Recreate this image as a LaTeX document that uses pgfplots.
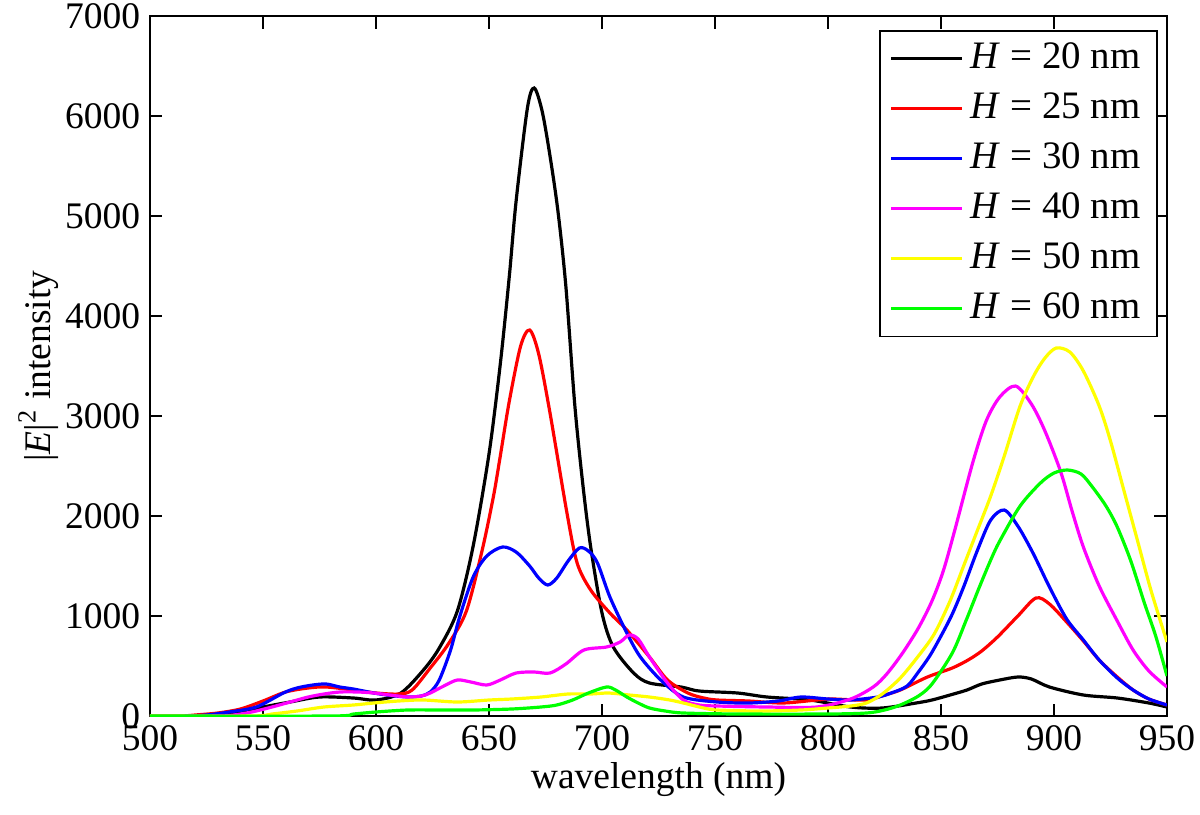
\documentclass[border=0pt]{standalone}
\usepackage{fontspec}
\setmainfont{Liberation Serif}
\usepackage{pgfplots}
\pgfplotsset{compat=1.18}
\definecolor{cblack}{rgb}{0,0,0}
\definecolor{cred}{rgb}{1,0,0}
\definecolor{cblue}{rgb}{0,0,1}
\definecolor{cmag}{rgb}{1,0,1}
\definecolor{cyel}{rgb}{1,1,0}
\definecolor{cgreen}{rgb}{0,1,0}
\begin{document}
\begin{tikzpicture}
\path[use as bounding box] (-54pt,-35.28pt) rectangle (378pt,257.76pt);
\begin{axis}[
  scale only axis, width=366.12pt, height=252pt,
  xmin=500, xmax=950, ymin=0, ymax=7000,
  xtick={500,550,...,950}, ytick={0,1000,...,7000},
  tick align=inside, major tick length=4.5pt,
  axis line style={line width=0.6pt},
  tick style={line width=0.6pt, black},
  font=\fontsize{13.5}{16}\selectfont,
  /pgf/number format/assume math mode=true,
  /pgf/number format/1000 sep={},
  scaled y ticks=false,
  xlabel={wavelength (nm)},
  ylabel={|\textit{E}|\textsuperscript{2} intensity},
  xlabel style={at={(axis description cs:0.5,-0.1040)}, anchor=base},
  ylabel style={at={(axis description cs:-0.0983,0.5)}, anchor=base},
  legend style={at={(0.991,0.98)}, anchor=north east, draw=black, line width=0.6pt, fill=white,
    font=\fontsize{14}{16}\selectfont, inner xsep=3.5pt, inner ysep=1pt, row sep=0pt,
    nodes={inner sep=2.5pt, text height=10pt, text depth=3pt}},
  legend cell align=left,
  legend image code/.code={\draw[#1] (0pt,0pt) -- (25.5pt,0pt);},
  every axis plot/.append style={line width=1.15pt, smooth, tension=0.5},
]
% H = 20 nm
\addplot[cblack] coordinates {
(500,0) (515,0) (525,10) (540,40) (550,90) (562,140) (575,190) (590,180) (600,160) (611,230)
(621,460) (628,680) (636,1050) (643,1700) (650,2620) (655,3520) (659,4400) (662,5150) (667,6080)
(670,6280) (673.5,6050) (677,5600) (680.5,5050) (684,4300) (688,3100) (691.6,2300) (695,1690)
(700,1030) (705,690) (714,430) (721,330) (735,290) (743,250) (760,230) (773,190) (792,160)
(810,90) (824,80) (839,130) (846,160) (854,210) (861.5,260) (868,320) (876,360) (884,390)
(890,370) (898,290) (913,210) (928,180) (942,130) (950,90)};
\addlegendentry{\textit{H} = 20 nm}
% H = 25 nm
\addplot[cred] coordinates {
(500,0) (515,0) (520,10) (530,30) (540,70) (550,150) (560,240) (570,280) (578,290) (590,260)
(600,230) (610,220) (616,260) (624,480) (632,720) (640,1050) (647,1660) (652,2200) (655,2600)
(659,3150) (664,3700) (668,3860) (672,3620) (677,3030) (684.5,2030) (689,1530) (695,1260)
(703.5,1030) (711,860) (721,590) (729,360) (738,230) (745,180) (751,160) (765,150) (780,130)
(795,160) (802,170) (817,160) (825,210) (832,260) (844,390) (855,480) (862,560) (868,650)
(875,790) (884,1000) (892,1180) (898,1120) (906,930) (913,750) (920,560) (928,390) (935,260)
(942,170) (950,110)};
\addlegendentry{\textit{H} = 25 nm}
% H = 30 nm
\addplot[cblue] coordinates {
(500,0) (515,0) (525,10) (535,40) (547,90) (559,230) (565,280) (572,310) (578,320) (584,290)
(590,270) (599,230) (605,210) (614,190) (620,200) (624,240) (628,360) (633,660) (637,990)
(643,1390) (649,1600) (656,1690) (662,1640) (668,1500) (672,1380) (676,1310) (680,1380)
(685,1550) (690,1680) (694,1650) (698,1530) (703.5,1190) (711,830) (717,590) (726,360)
(736,190) (751,140) (765,130) (778,150) (788,190) (800,170) (810,160) (822,190) (828,230)
(835,300) (840,440) (845,600) (850,800) (855,1020) (860,1290) (866,1650) (872,1960) (878,2060)
(884,1900) (890.7,1630) (898,1290) (905.6,970) (913,760) (920,560) (928,380) (935,260)
(942,170) (950,110)};
\addlegendentry{\textit{H} = 30 nm}
% H = 40 nm
\addplot[cmag] coordinates {
(500,0) (530,0) (537,10) (545,40) (554,90) (562,140) (570,190) (577,220) (584,240) (592,240)
(599,230) (606,210) (614,190) (620,200) (624,230) (630,300) (636,360) (642,340) (649,310)
(655,360) (662,430) (670,440) (677,430) (684,520) (692,660) (702,690) (708,740) (712,810)
(716,770) (721,590) (729,330) (736,160) (743,110) (751,100) (773,90) (795,90) (810,170)
(820,290) (826,420) (833,630) (840,880) (846,1150) (851,1450) (856,1850) (864,2530) (870,2950)
(876,3190) (883,3300) (890,3120) (896,2850) (903,2440) (908,2050) (913,1690) (920,1300)
(928,950) (935,660) (942,450) (950,290)};
\addlegendentry{\textit{H} = 40 nm}
% H = 50 nm
\addplot[cyel] coordinates {
(500,0) (545,0) (554,20) (565,50) (577,90) (590,110) (599,130) (610,150) (621,160) (636,140)
(650,160) (660,170) (673,190) (685,220) (695,220) (703,230) (712,210) (721,190) (730,160)
(736,130) (745,80) (751,60) (770,50) (788,60) (800,80) (810,100) (817,130) (824,220) (832,380)
(840,600) (847,820) (854,1150) (860,1500) (866,1850) (872,2200) (878,2600) (885,3100) (891,3400)
(896,3580) (901,3680) (907,3640) (913,3450) (920,3100) (925,2750) (931,2250) (937,1750)
(943,1250) (950,740)};
\addlegendentry{\textit{H} = 50 nm}
% H = 60 nm
\addplot[cgreen] coordinates {
(500,0) (580,0) (590,20) (600,40) (614,60) (630,60) (643,60) (660,70) (673,90) (680,110)
(687,160) (694,230) (702,290) (706,260) (711,190) (716,130) (721,80) (728,50) (736,30)
(760,20) (800,20) (817,30) (825,60) (832,110) (840,200) (846,320) (855,630) (861,950)
(867,1290) (872,1560) (876,1750) (885,2100) (894,2330) (900,2430) (906,2460) (912,2420)
(917,2290) (923,2100) (928,1890) (934,1550) (940,1130) (945,800) (950,400)};
\addlegendentry{\textit{H} = 60 nm}
\end{axis}
\end{tikzpicture}
\end{document}
